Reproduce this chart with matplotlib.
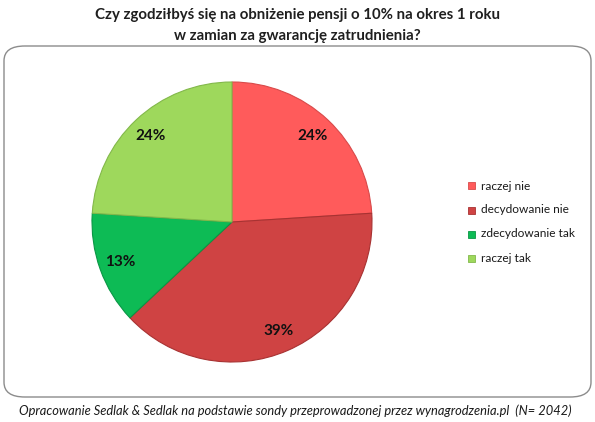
import matplotlib
matplotlib.use("Agg")
import matplotlib.pyplot as plt
from matplotlib.patches import FancyBboxPatch, Rectangle

labels = ["raczej nie", "decydowanie nie", "zdecydowanie tak", "raczej tak"]
values = [24, 39, 13, 24]
colors = ["#FF5B5B", "#CF4343", "#0DBB55", "#9ED85C"]
edge_colors = ["#D84A4A", "#A83232", "#0A9645", "#82B84A"]
title_lines = ["Czy zgodziłbyś się na obniżenie pensji o 10% na okres 1 roku",
               "w zamian za gwarancję zatrudnienia?"]
footer = "Opracowanie Sedlak & Sedlak na podstawie sondy przeprowadzonej przez wynagrodzenia.pl  (N= 2042)"

W, H = 595, 422
fig = plt.figure(figsize=(W / 100, H / 100), dpi=100)
fig.patch.set_facecolor("white")
font = ["Lato", "DejaVu Sans"]

# frame
frame = FancyBboxPatch((4 / W, (H - 397) / H), 587 / W, 351 / H,
                       boxstyle="round,pad=0,rounding_size=0.035",
                       transform=fig.transFigure, facecolor="none",
                       edgecolor="#8C8C8C", linewidth=1.0, zorder=-1)
fig.patches.append(frame)

# title
fig.text(0.5, 1 - 15 / H, title_lines[0], ha="center", va="center",
         fontsize=10.8, fontweight="bold", color="#1F1F1F", family=font)
fig.text(0.5, 1 - 36 / H, title_lines[1], ha="center", va="center",
         fontsize=10.8, fontweight="bold", color="#1F1F1F", family=font)

# pie axes: center (232,222), radius 140
r = 140
ax = fig.add_axes([(232 - r) / W, (H - 222 - r) / H, 2 * r / W, 2 * r / H])
ax.patch.set_alpha(0)
wedges, texts, autotexts = ax.pie(
    values, colors=colors, startangle=90, counterclock=False,
    autopct=lambda p: f"{p:.0f}%", pctdistance=0.845,
    wedgeprops=dict(linewidth=0.8),
    textprops=dict(fontsize=11, fontweight="bold", color="#111111", family=font))
for w, ec in zip(wedges, edge_colors):
    w.set_edgecolor(ec)
ax.set_aspect("equal")
ax.set_xlim(-1, 1)
ax.set_ylim(-1, 1)
ax.axis("off")

# legend
ys = [186, 210, 234, 258]
for lab, c, ec, y in zip(labels, colors, edge_colors, ys):
    fig.patches.append(Rectangle(((468) / W, (H - y - 3.5) / H), 7 / W, 7 / H,
                                 transform=fig.transFigure, facecolor=c,
                                 edgecolor=ec, linewidth=0.6))
    fig.text(481 / W, 1 - y / H, lab, ha="left", va="center",
             fontsize=8.6, color="#1A1A1A", family=font)

# footer
fig.text(295 / W, 1 - 411 / H, footer, ha="center", va="center",
         fontsize=9.3, style="italic", color="#1A1A1A", family=font)

fig.savefig("out.png", dpi=100)
